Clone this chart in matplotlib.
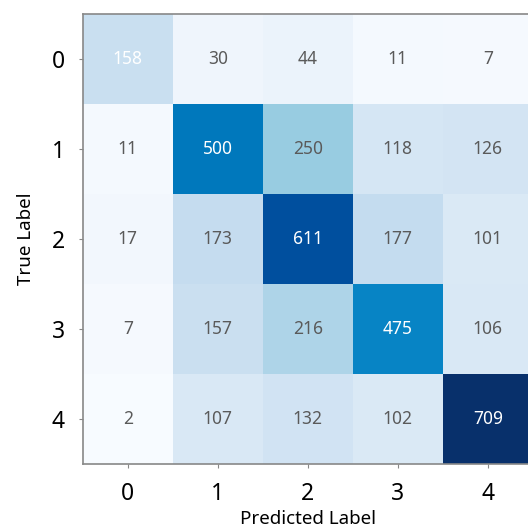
import numpy as np
import matplotlib
matplotlib.use("Agg")
import matplotlib.pyplot as plt
from matplotlib.colors import LinearSegmentedColormap

plt.rcParams["font.family"] = ["Noto Sans", "DejaVu Sans"]

labels = ["0", "1", "2", "3", "4"]
cm = np.array([
    [158, 30, 44, 11, 7],
    [11, 500, 250, 118, 126],
    [17, 173, 611, 177, 101],
    [7, 157, 216, 475, 106],
    [2, 107, 132, 102, 709],
])

# a punchier version of Blues
blues = LinearSegmentedColormap.from_list("blues_vivid", [
    (0.0, "#f7fbff"),
    (0.125, "#deebf7"),
    (0.25, "#c4dcef"),
    (0.35, "#9acde2"),
    (0.5, "#5cb3dc"),
    (0.66, "#0a88c8"),
    (0.71, "#0077bb"),
    (0.86, "#0050a0"),
    (1.0, "#08306b"),
])

fig = plt.figure(figsize=(5.28, 5.28), dpi=100)
ax = fig.add_axes([0.157, 0.121, 0.852, 0.852])

ax.imshow(cm, cmap=blues, vmin=0, vmax=cm.max(), aspect="auto")

for i in range(cm.shape[0]):
    for j in range(cm.shape[1]):
        color = "white" if i == j else "#5a5a5a"
        ax.text(j, i, str(cm[i, j]), ha="center", va="center",
                color=color, fontsize=12.5)

ax.set_xticks(range(len(labels)))
ax.set_yticks(range(len(labels)))
ax.set_xticklabels(labels, fontsize=16.5)
ax.set_yticklabels(labels, fontsize=16.5)
ax.tick_params(length=3, color="#888888")
ax.tick_params(axis="x", pad=10)
ax.tick_params(axis="y", pad=10)
ax.set_xlabel("Predicted Label", fontsize=13.5, labelpad=3)
ax.set_ylabel("True Label", fontsize=13.5, labelpad=12)

for side in ax.spines.values():
    side.set_color("#888888")
    side.set_linewidth(1.2)

fig.savefig("out.png", dpi=100)
